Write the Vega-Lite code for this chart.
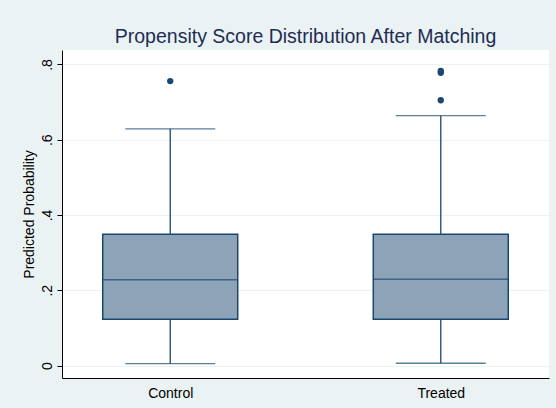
{
  "$schema": "https://vega.github.io/schema/vega-lite/v6.json",
  "autosize": {"type": "none"},
  "width": 487,
  "height": 328,
  "padding": {"left": 62, "top": 50, "right": 7, "bottom": 30},
  "background": "#EAF2F3",
  "config": {
    "font": "Liberation Sans",
    "view": {"stroke": null, "fill": "white"}
  },
  "title": {
    "text": "Propensity Score Distribution After Matching",
    "fontSize": 19.5,
    "fontWeight": "normal",
    "color": "#1E2D53",
    "anchor": "middle",
    "offset": 3
  },
  "datasets": {
    "boxes": [
      {"group": "Control", "lower": 0.005, "q1": 0.123, "median": 0.228, "q3": 0.349, "upper": 0.629},
      {"group": "Treated", "lower": 0.006, "q1": 0.123, "median": 0.229, "q3": 0.349, "upper": 0.664}
    ],
    "outliers": [
      {"group": "Control", "value": 0.756},
      {"group": "Treated", "value": 0.705},
      {"group": "Treated", "value": 0.778},
      {"group": "Treated", "value": 0.783}
    ]
  },
  "encoding": {
    "x": {
      "field": "group", "type": "nominal",
      "scale": {"type": "point", "padding": 0.4, "domain": ["Control", "Treated"]},
      "axis": {"title": null, "labelAngle": 0, "ticks": false, "grid": false, "domainColor": "black", "domainWidth": 1, "labelFontSize": 14, "labelColor": "black", "labelPadding": 8}
    }
  },
  "layer": [
    {
      "data": {"name": "boxes"},
      "mark": {"type": "rule", "color": "#1A476F", "strokeWidth": 1.3},
      "encoding": {
        "y": {
          "field": "lower", "type": "quantitative",
          "scale": {"domain": [-0.0332, 0.8385], "nice": false, "zero": false},
          "axis": {
            "title": "Predicted Probability", "titleFontSize": 14, "titleFontWeight": "normal", "titleColor": "black", "titlePadding": 4,
            "values": [0, 0.2, 0.4, 0.6, 0.8],
            "labelExpr": "datum.value == 0 ? '0' : replace(format(datum.value, '.1f'), '0.', '.')",
            "labelAngle": -90, "labelAlign": "center", "labelBaseline": "bottom", "labelPadding": 3,
            "labelFontSize": 14, "labelColor": "black",
            "tickSize": 5, "tickColor": "black", "domainColor": "black",
            "grid": true, "gridColor": "#EAF2F3", "gridWidth": 1.2
          }
        },
        "y2": {"field": "upper"}
      }
    },
    {
      "data": {"name": "boxes"},
      "mark": {"type": "tick", "color": "#1A476F", "size": 90, "thickness": 1.3, "orient": "horizontal"},
      "encoding": {"y": {"field": "lower", "type": "quantitative"}}
    },
    {
      "data": {"name": "boxes"},
      "mark": {"type": "tick", "color": "#1A476F", "size": 90, "thickness": 1.3, "orient": "horizontal"},
      "encoding": {"y": {"field": "upper", "type": "quantitative"}}
    },
    {
      "data": {"name": "boxes"},
      "mark": {"type": "bar", "width": 135, "fill": "#8DA3B8", "stroke": "#1A476F", "strokeWidth": 1.5},
      "encoding": {
        "y": {"field": "q1", "type": "quantitative"},
        "y2": {"field": "q3"}
      }
    },
    {
      "data": {"name": "boxes"},
      "mark": {"type": "tick", "color": "#1A476F", "size": 135, "thickness": 1.5, "orient": "horizontal"},
      "encoding": {"y": {"field": "median", "type": "quantitative"}}
    },
    {
      "data": {"name": "outliers"},
      "mark": {"type": "circle", "color": "#1A476F", "opacity": 1, "size": 40},
      "encoding": {"y": {"field": "value", "type": "quantitative"}}
    }
  ]
}
